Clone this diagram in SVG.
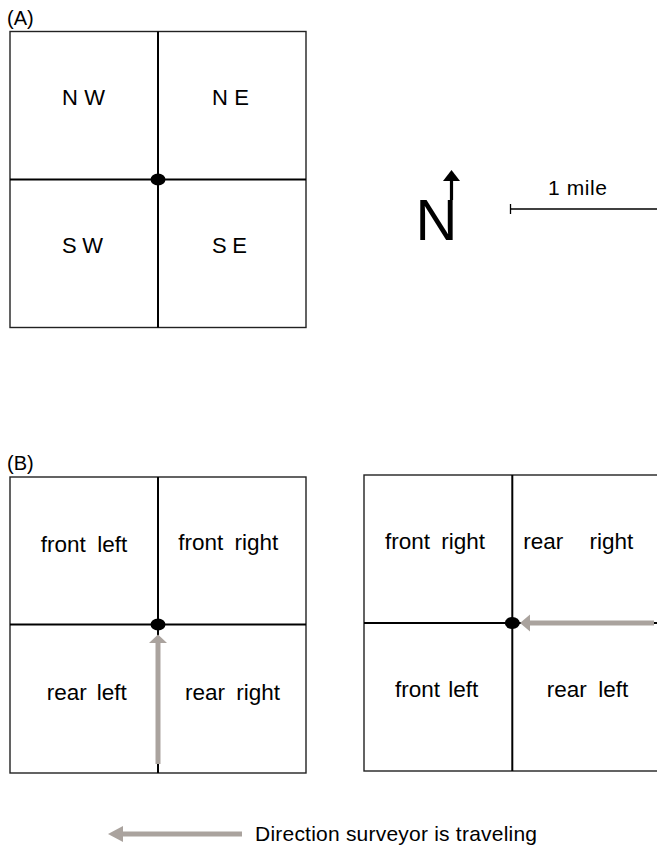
<svg xmlns="http://www.w3.org/2000/svg" width="657" height="849" viewBox="0 0 657 849">
<defs>
<style>
text{font-family:"Liberation Sans",Arial,sans-serif;fill:#000}
.lbl{font-size:22.5px}
.dir{font-size:22px}
.outer{fill:none;stroke:#222;stroke-width:1.4}
.inner{stroke:#000;stroke-width:2}
.dot{fill:#000}
.gray{stroke:#aaa39e;stroke-width:5;fill:none}
.grayhead{fill:#aaa39e}
.e{text-anchor:end}
</style>
</defs>
<rect width="657" height="849" fill="#fff"/>

<text x="7" y="25" style="font-size:20px">(A)</text>
<text x="7" y="470" style="font-size:20px">(B)</text>

<g id="panelA">
<rect class="outer" x="10" y="31.5" width="296" height="296"/>
<line class="inner" x1="158" y1="31.5" x2="158" y2="327.5"/>
<line class="inner" x1="10" y1="179.5" x2="306" y2="179.5"/>
<ellipse class="dot" cx="158" cy="179.5" rx="7.5" ry="6"/>
<text class="dir" x="62" y="105" textLength="43" lengthAdjust="spacing">N W</text>
<text class="dir" x="212" y="105" textLength="37" lengthAdjust="spacing">N E</text>
<text class="dir" x="62" y="253" textLength="41" lengthAdjust="spacing">S W</text>
<text class="dir" x="212" y="253" textLength="35" lengthAdjust="spacing">S E</text>
</g>

<g id="north">
<text x="415.6" y="240" style="font-size:58px">N</text>
<line x1="451.5" y1="200" x2="451.5" y2="179" stroke="#000" stroke-width="3.2"/>
<polygon points="451.5,170 460,181 443,181" fill="#000"/>
</g>

<g id="scale">
<line x1="510" y1="209" x2="657" y2="209" stroke="#000" stroke-width="1.3"/>
<line x1="510.5" y1="204" x2="510.5" y2="214" stroke="#000" stroke-width="1.3"/>
<text x="548" y="195" style="font-size:21px" textLength="59" lengthAdjust="spacing">1 mile</text>
</g>

<g id="panelB1">
<rect class="outer" x="10" y="477" width="296" height="296"/>
<line class="inner" x1="158" y1="477" x2="158" y2="773"/>
<line class="inner" x1="10" y1="624.5" x2="306" y2="624.5"/>
<text class="lbl" y="552"><tspan x="40.7">front</tspan> <tspan class="e" x="127.3">left</tspan></text>
<text class="lbl" y="550"><tspan x="178.3">front</tspan> <tspan class="e" x="278.3">right</tspan></text>
<text class="lbl" y="700"><tspan x="46.7">rear</tspan> <tspan class="e" x="126.7">left</tspan></text>
<text class="lbl" y="700"><tspan x="185">rear</tspan> <tspan class="e" x="280">right</tspan></text>
</g>

<g id="panelB2">
<rect class="outer" x="364" y="475" width="296" height="296"/>
<line class="inner" x1="512.3" y1="475" x2="512.3" y2="771"/>
<line class="inner" x1="364" y1="623" x2="660" y2="623"/>
<text class="lbl" y="549"><tspan x="385">front</tspan> <tspan class="e" x="485">right</tspan></text>
<text class="lbl" y="549"><tspan x="523.3">rear</tspan> <tspan class="e" x="633.3">right</tspan></text>
<text class="lbl" y="697"><tspan x="395">front</tspan> <tspan class="e" x="478.3">left</tspan></text>
<text class="lbl" y="697"><tspan x="546.7">rear</tspan> <tspan class="e" x="628.3">left</tspan></text>
</g>

<g id="connectors">
<line class="gray" x1="158" y1="764" x2="158" y2="641"/>
<polygon class="grayhead" points="158,634.5 167,643 149,643"/>
<ellipse class="dot" cx="158" cy="624.5" rx="7.5" ry="6"/>
<line class="gray" x1="654" y1="623" x2="529" y2="623"/>
<polygon class="grayhead" points="520,623 530,614.5 530,631.5"/>
<ellipse class="dot" cx="512.3" cy="623" rx="7.5" ry="6"/>
</g>

<g id="legend">
<line class="gray" x1="242" y1="834" x2="120" y2="834"/>
<polygon class="grayhead" points="108,834 123,826 123,842"/>
<text x="255" y="841" style="font-size:21px" textLength="282" lengthAdjust="spacing">Direction surveyor is traveling</text>
</g>
</svg>
